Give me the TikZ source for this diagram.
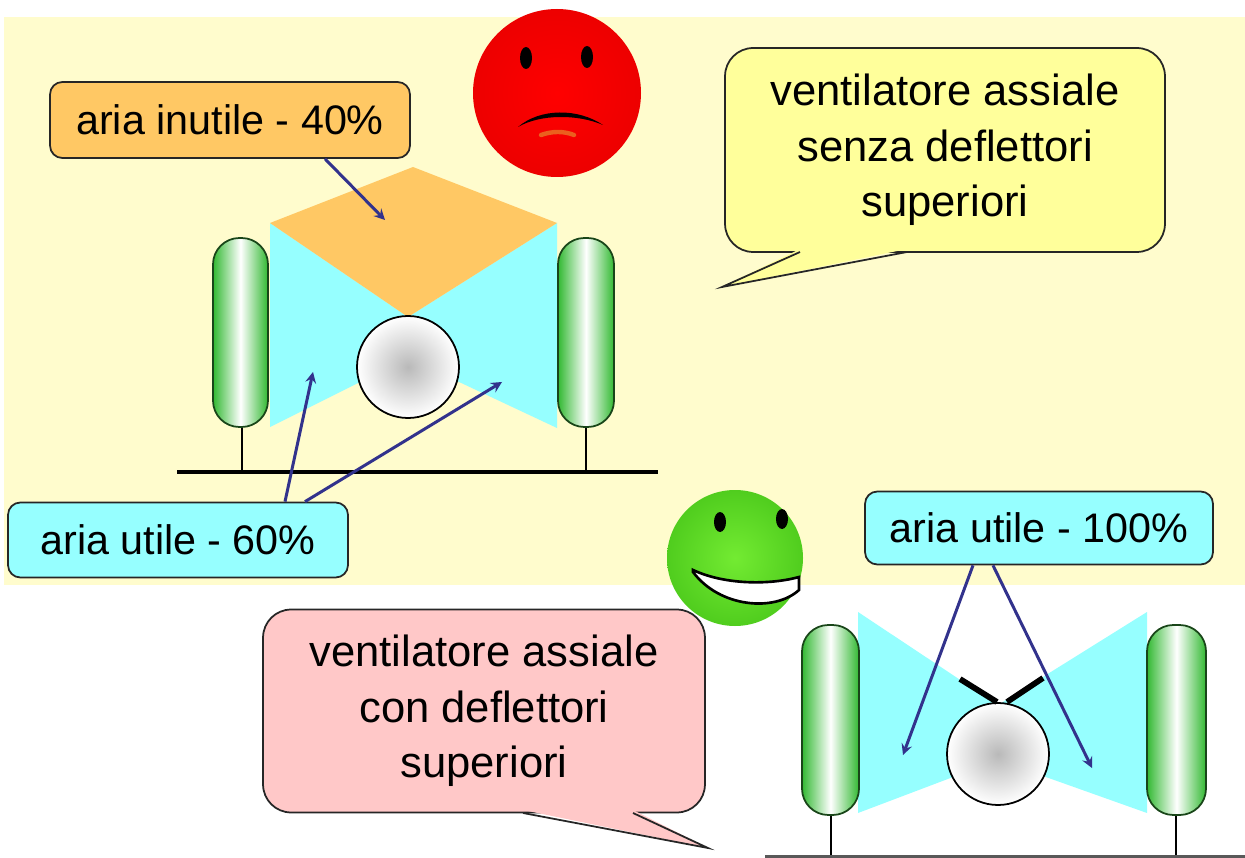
\documentclass[tikz,border=0pt]{standalone}
\usepackage{fontspec}
\setmainfont{Liberation Sans}
\usetikzlibrary{calc}

\definecolor{fondo}{RGB}{255,252,205}
\definecolor{flowcyan}{RGB}{150,255,255}
\definecolor{wasteorange}{RGB}{255,200,100}
\definecolor{pillgreen}{RGB}{50,185,50}
\definecolor{pillline}{RGB}{25,70,25}
\definecolor{arrowblue}{RGB}{50,50,140}
\definecolor{bubbleyellow}{RGB}{255,255,155}
\definecolor{bubblepink}{RGB}{255,200,200}
\definecolor{lipcolor}{RGB}{235,95,30}

\begin{document}
\begin{tikzpicture}[x=0.02cm, y=-0.02cm]
    \tikzstyle{tagbox} = [rectangle, draw=black!85, line width=1pt,
        rounded corners=7pt, inner sep=0pt, font=\fontsize{23.5}{28}\selectfont]
    \tikzstyle{bubble} = [rectangle, draw=black!85, line width=1pt,
        rounded corners=16pt, align=center, font=\fontsize{24.8}{31.7}\selectfont]
    \tikzstyle{arrow} = [line width=1.7pt, ->, >=stealth, color=arrowblue]
    \tikzstyle{pill} = [draw=pillline, line width=1pt, left color=pillgreen,
        right color=pillgreen, middle color=white, rounded corners=15pt]
    \tikzstyle{hub} = [draw=black, line width=1pt, inner color=gray!55, outer color=white]
    \tikzstyle{stem} = [line width=1.6pt]

    \useasboundingbox (0,0) rectangle (1245,858);
    \fill[white] (0,0) rectangle (1245,858);
    \fill[fondo] (4,17) rectangle (1245,585);

    % fan without deflectors
    \fill[flowcyan] (270,223) -- (408,317) -- (557,223) -- (557,428)
        -- (408,358) -- (270,427) -- cycle;
    \fill[wasteorange] (270,223) -- (413,167) -- (557,223) -- (408,317) -- cycle;
    \draw[hub] (408,367) circle [radius=51];
    \draw[stem] (242,427) -- (242,472);
    \draw[stem] (586,427) -- (586,472);
    \draw[line width=2.2pt] (177,472) -- (658,472);
    \draw[pill] (213,238) rectangle (268,427);
    \draw[pill] (558,238) rectangle (614,427);

    \coordinate (wastetip) at (385,220);
    \coordinate (lefttip) at (313,372);
    \coordinate (righttip) at (502,382);

    \node [tagbox, fill=wasteorange, minimum width=7.2cm, minimum height=1.52cm] (waste) at (230,120) {aria inutile - 40\%};
    \node [tagbox, fill=flowcyan, minimum width=6.8cm, minimum height=1.5cm] (useful) at (178,540) {aria utile - 60\%};

    \draw [arrow] ($(waste.south)+(95,0)$) -- (wastetip);
    \draw [arrow] ($(useful.north)+(107,0)$) -- (lefttip);
    \draw [arrow] ($(useful.north)+(127,0)$) -- (righttip);

    % sad face
    \shade[inner color=red, outer color=red!93!black] (557,93) circle [radius=84];
    \fill (526,58) ellipse [x radius=6, y radius=11];
    \fill (587,57) ellipse [x radius=6, y radius=11];
    \fill (518,127) .. controls (540,108) and (578,108) .. (603,125)
        .. controls (578,114) and (540,114) .. (518,127) -- cycle;
    \draw[lipcolor, line width=2.5pt, line cap=round] (541,135) .. controls (552,131) and (564,131) .. (574,135);

    \node [bubble, fill=bubbleyellow, minimum width=8.8cm, minimum height=4.08cm] (senza) at (945,150)
        {ventilatore assiale\\senza deflettori\\superiori};
    \coordinate (senzatip) at (722,287);
    \fill[bubbleyellow] (800,249) -- (senzatip) -- (907,249) -- cycle;
    \draw[line width=1pt, black!85] (800,252) -- (senzatip) -- (907,252);

    % fan with deflectors
    \fill[flowcyan] (858,612) -- (998,705) -- (1147,612) -- (1147,813)
        -- (998,760) -- (858,813) -- cycle;
    \draw[hub] (998,754) circle [radius=51];
    \draw[line width=3.3pt] (960,679) -- (997,702);
    \draw[line width=3.3pt] (1007,702) -- (1043,678);
    \draw[stem] (831,815) -- (831,858);
    \draw[stem] (1176,815) -- (1176,858);
    \draw[line width=2pt, black!65] (765,856.5) -- (1245,856.5);
    \draw[pill] (802,625) rectangle (859,815);
    \draw[pill] (1147,625) rectangle (1206,815);

    \coordinate (lowleft) at (903,755);
    \coordinate (lowright) at (1092,768);

    \node [tagbox, fill=flowcyan, minimum width=6.96cm, minimum height=1.46cm] (fullflow) at (1039,528) {aria utile - 100\%};

    \draw [arrow] ($(fullflow.south)+(-66,0)$) -- (lowleft);
    \draw [arrow] ($(fullflow.south)+(-46,0)$) -- (lowright);

    \node [bubble, fill=bubblepink, minimum width=8.84cm, minimum height=4.06cm] (con) at (484,711)
        {ventilatore assiale\\con deflettori\\superiori};
    \coordinate (contip) at (708,848);
    \fill[bubblepink] (523,810) -- (contip) -- (633,810) -- cycle;
    \draw[line width=1pt, black!85] (523,813) -- (contip) -- (633,813);

    % happy face
    \shade[inner color={rgb,255:red,115;green,235;blue,50}, outer color={rgb,255:red,80;green,205;blue,30}] (735,558) circle [radius=68];
    \fill (720,522) ellipse [x radius=6, y radius=10];
    \fill (782,519) ellipse [x radius=6, y radius=10];
    \draw[fill=white, line width=1.5pt] (693,570) .. controls (725,585) and (770,585) .. (799,577)
        -- (799,590) .. controls (775,612) and (720,608) .. (693,572) -- cycle;
\end{tikzpicture}
\end{document}
